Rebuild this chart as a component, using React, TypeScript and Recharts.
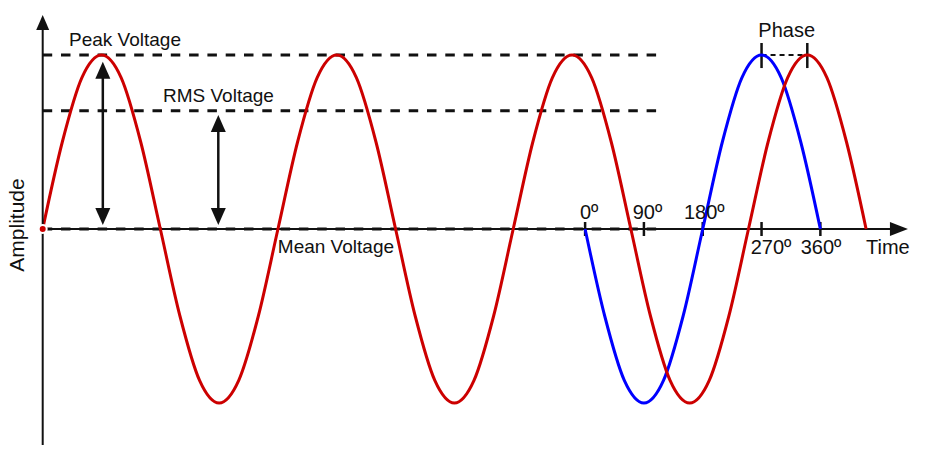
import React from 'react';
import { ComposedChart, Line, XAxis, YAxis, ReferenceLine, ReferenceDot } from 'recharts';

// time in degrees of the red wave, amplitude relative to peak
const redTime = [
  0, 30, 60, 90, 120, 150, 180, 210, 240, 270, 300, 330,
  360, 390, 420, 450, 480, 510, 540, 570, 600, 630, 660, 690,
  720, 750, 780, 810, 840, 870, 900, 930, 960, 990, 1020, 1050,
  1080, 1110, 1140, 1170, 1200, 1230, 1260,
];
const redAmp = [
  0, 0.5, 0.87, 1, 0.87, 0.5, 0, -0.5, -0.87, -1, -0.87, -0.5,
  0, 0.5, 0.87, 1, 0.87, 0.5, 0, -0.5, -0.87, -1, -0.87, -0.5,
  0, 0.5, 0.87, 1, 0.87, 0.5, 0, -0.5, -0.87, -1, -0.87, -0.5,
  0, 0.5, 0.87, 1, 0.87, 0.5, 0,
];
const blueTime = [830, 860, 890, 920, 950, 980, 1010, 1040, 1070, 1100, 1130, 1160, 1190];
const blueAmp = [0, -0.5, -0.87, -1, -0.87, -0.5, 0, 0.5, 0.87, 1, 0.87, 0.5, 0];

const peakLevel = 1;
const rmsLevel = 0.68;
const degreeTicks = [830, 920, 1010, 1100, 1190];
const degreeLabels = ['0º', '90º', '180º', '270º', '360º'];
const phasePeaks = [1100, 1170];

const redData = redTime.map((t, i) => ({ t, v: redAmp[i] }));
const blueData = blueTime.map((t, i) => ({ t, v: blueAmp[i] }));

const INK = '#111';
const FONT = "'Liberation Sans', Arial, sans-serif";

const arrow = (dir: string, len: number, half: number) => (p: any) => {
  const { cx, cy } = p;
  let pts = '';
  if (dir === 'up') pts = `${cx},${cy} ${cx - half},${cy + len} ${cx + half},${cy + len}`;
  if (dir === 'down') pts = `${cx},${cy} ${cx - half},${cy - len} ${cx + half},${cy - len}`;
  if (dir === 'right') pts = `${cx},${cy} ${cx - len},${cy - half} ${cx - len},${cy + half}`;
  return <polygon points={pts} fill={INK} />;
};

const label = (text: string, size = 19, anchor = 'start', rotate = false) => (p: any) => (
  <text
    x={p.cx}
    y={p.cy}
    fontSize={size}
    fontFamily={FONT}
    fill={INK}
    textAnchor={anchor}
    transform={rotate ? `rotate(-90 ${p.cx} ${p.cy})` : undefined}
  >
    {text}
  </text>
);

export default function App() {
  const dash = { stroke: INK, strokeWidth: 3, strokeDasharray: '9.5 8.8' };
  return (
    <div style={{ position: 'absolute', left: 0, top: 0, width: 925, height: 454, background: '#fff' }}>
      <ComposedChart width={925} height={454} margin={{ top: 0, right: 0, bottom: 0, left: 0 }}>
        <XAxis type="number" dataKey="t" domain={[-65.34, 1350.12]} hide allowDataOverflow />
        <YAxis type="number" dataKey="v" domain={[-1.2931, 1.3161]} hide allowDataOverflow />

        {/* x axis */}
        <ReferenceLine segment={[{ x: 0, y: 0 }, { x: 1297, y: 0 }]} stroke={INK} strokeWidth={2} />
        <ReferenceDot x={1324} y={0} shape={arrow('right', 18, 7)} />

        {/* peak / rms / mean levels */}
        <ReferenceLine segment={[{ x: 0, y: peakLevel }, { x: 941, y: peakLevel }]} {...dash} />
        <ReferenceLine segment={[{ x: 0, y: rmsLevel }, { x: 941, y: rmsLevel }]} {...dash} />
        <ReferenceLine segment={[{ x: 0, y: 0 }, { x: 941, y: 0 }]} {...dash} />

        {/* double arrows */}
        <ReferenceLine segment={[{ x: 92, y: 0.8678 }, { x: 92, y: 0.1207 }]} stroke={INK} strokeWidth={2.5} />
        <ReferenceDot x={92} y={0.9615} shape={arrow('up', 17, 7.5)} />
        <ReferenceDot x={92} y={0.023} shape={arrow('down', 17, 7.5)} />
        <ReferenceLine segment={[{ x: 268.7, y: 0.5575 }, { x: 268.7, y: 0.1207 }]} stroke={INK} strokeWidth={2.5} />
        <ReferenceDot x={268.7} y={0.6552} shape={arrow('up', 17, 7.5)} />
        <ReferenceDot x={268.7} y={0.023} shape={arrow('down', 17, 7.5)} />

        {/* degree ticks */}
        {degreeTicks.map((t) => (
          <ReferenceLine key={t} segment={[{ x: t, y: -0.0402 }, { x: t, y: 0.0402 }]} stroke={INK} strokeWidth={2.5} />
        ))}

        {/* phase marker */}
        <ReferenceLine segment={[{ x: phasePeaks[0], y: peakLevel }, { x: phasePeaks[1], y: peakLevel }]} stroke={INK} strokeWidth={2} strokeDasharray="5 4" />
        {phasePeaks.map((t) => (
          <ReferenceLine key={t} segment={[{ x: t, y: 0.925 }, { x: t, y: 1.069 }]} stroke={INK} strokeWidth={2.5} />
        ))}

        <Line data={blueData} dataKey="v" type="monotone" stroke="#0000ff" strokeWidth={3} dot={false} isAnimationActive={false} />
        <Line data={redData} dataKey="v" type="monotone" stroke="#cc0000" strokeWidth={3} dot={false} isAnimationActive={false} />

        {/* y axis */}
        <ReferenceLine segment={[{ x: 0, y: -1.2414 }, { x: 0, y: 1.161 }]} stroke={INK} strokeWidth={2} />
        <ReferenceDot x={0} y={1.2299} shape={arrow('up', 15, 6.5)} />

        {/* text */}
        <ReferenceDot x={40.2} y={1.052} shape={label('Peak Voltage')} />
        <ReferenceDot x={184.1} y={0.732} shape={label('RMS Voltage')} />
        <ReferenceDot x={359.8} y={-0.138} shape={label('Mean Voltage')} />
        <ReferenceDot x={1138.5} y={1.103} shape={label('Phase', 20, 'middle')} />
        <ReferenceDot x={822.2} y={0.056} shape={label(degreeLabels[0], 20)} />
        <ReferenceDot x={902.8} y={0.056} shape={label(degreeLabels[1], 20)} />
        <ReferenceDot x={981.3} y={0.056} shape={label(degreeLabels[2], 20)} />
        <ReferenceDot x={1083.4} y={-0.144} shape={label(degreeLabels[3], 20)} />
        <ReferenceDot x={1159.9} y={-0.144} shape={label(degreeLabels[4], 20)} />
        <ReferenceDot x={1259.8} y={-0.144} shape={label('Time', 20)} />
        <ReferenceDot x={-28.6} y={0.023} shape={label('Amplitude', 21, 'middle', true)} />
      </ComposedChart>
    </div>
  );
}
